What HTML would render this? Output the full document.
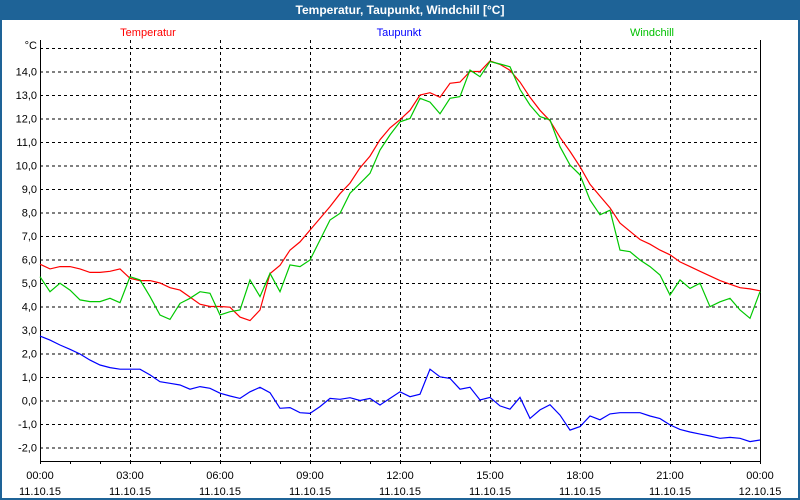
<!DOCTYPE html>
<html><head><meta charset="utf-8"><style>
body{margin:0;width:800px;height:500px;overflow:hidden;background:#fff;font-family:"Liberation Sans",sans-serif}
#frame{position:absolute;left:0;top:0;width:796px;height:478px;border:2px solid #1e6397;border-top:20px solid #1e6397;background:#fff}
#title{position:absolute;left:0;top:0;width:800px;height:20px;line-height:20px;text-align:center;color:#fff;font-weight:bold;font-size:12px}
</style></head><body>
<div id="frame"></div>
<div id="title">Temperatur, Taupunkt, Windchill [°C]</div>
<svg id="chart" width="800" height="500" style="position:absolute;left:0;top:0"></svg>
<script>
const tempValues=[5.8,5.6,5.7,5.7,5.6,5.45,5.45,5.5,5.6,5.2,5.1,5.1,5.0,4.8,4.7,4.4,4.1,4.0,4.0,3.97,3.55,3.4,3.85,5.4,5.75,6.4,6.75,7.25,7.75,8.25,8.8,9.25,9.9,10.4,11.1,11.6,11.95,12.35,13.0,13.1,12.9,13.5,13.55,14.0,14.0,14.45,14.3,14.05,13.55,12.9,12.35,11.9,11.2,10.6,9.95,9.2,8.7,8.2,7.55,7.2,6.85,6.65,6.4,6.2,5.9,5.7,5.5,5.3,5.1,4.95,4.8,4.75,4.67];
const dewValues=[2.74,2.57,2.36,2.18,1.98,1.72,1.51,1.4,1.33,1.33,1.33,1.09,0.8,0.73,0.66,0.48,0.59,0.52,0.31,0.19,0.09,0.37,0.56,0.33,-0.33,-0.3,-0.52,-0.55,-0.26,0.09,0.05,0.12,0.0,0.09,-0.19,0.09,0.37,0.16,0.27,1.33,1.01,0.94,0.48,0.56,0.02,0.13,-0.23,-0.37,0.13,-0.76,-0.4,-0.18,-0.62,-1.26,-1.11,-0.66,-0.82,-0.57,-0.52,-0.52,-0.52,-0.66,-0.77,-1.04,-1.23,-1.34,-1.43,-1.51,-1.61,-1.57,-1.61,-1.75,-1.68];
const chillValues=[5.27,4.63,4.99,4.7,4.28,4.21,4.21,4.35,4.16,5.27,5.13,4.42,3.64,3.45,4.13,4.35,4.63,4.56,3.64,3.78,3.85,5.13,4.42,5.41,4.63,5.77,5.7,5.98,6.83,7.68,7.96,8.82,9.24,9.67,10.66,11.3,11.86,12.0,12.86,12.7,12.2,12.86,12.93,14.06,13.78,14.42,14.32,14.2,13.24,12.57,12.08,11.94,10.8,10.02,9.6,8.53,7.9,8.1,6.4,6.33,5.98,5.7,5.34,4.49,5.13,4.77,4.99,3.99,4.2,4.35,3.85,3.5,4.63];
const yTicks=[-2,-1,0,1,2,3,4,5,6,7,8,9,10,11,12,13,14];
const xTickHours=[0,3,6,9,12,15,18,21,24];
const xTimeLabels=["00:00","03:00","06:00","09:00","12:00","15:00","18:00","21:00","00:00"];
const xDateLabels=["11.10.15","11.10.15","11.10.15","11.10.15","11.10.15","11.10.15","11.10.15","11.10.15","12.10.15"];
const stepHours=1/3;
const svg=document.getElementById('chart');
const NS='http://www.w3.org/2000/svg';
const L=40,R=760,T=40,B=461;
const xs=h=>L+h*(R-L)/24;
const ys=v=>48+(15-v)*23.5;
function mk(tag,attrs,txt){const e=document.createElementNS(NS,tag);for(const k in attrs)e.setAttribute(k,attrs[k]);if(txt!==undefined)e.textContent=txt;svg.appendChild(e);return e;}
// horizontal grid
[15,...yTicks].forEach(v=>{
 const g=mk('line',{x1:L,x2:R,y1:ys(v)+0.5,y2:ys(v)+0.5,stroke:'#000','stroke-dasharray':'3,3','shape-rendering':'crispEdges'});
 
 
});
yTicks.forEach(v=>{
 const t=mk('text',{x:37,y:ys(v)+4,'text-anchor':'end','font-size':'11',fill:'#000'},v.toFixed(1).replace('.',','));
 
 
});
const u=mk('text',{x:37,y:49,'text-anchor':'end','font-size':'11',fill:'#000'},'°C');


xTickHours.forEach((h,i)=>{
 if(h>0&&h<24){const g=mk('line',{x1:xs(h)+0.5,x2:xs(h)+0.5,y1:T,y2:B,stroke:'#000','stroke-dasharray':'3,3','shape-rendering':'crispEdges'});
 
 }
 const a=mk('text',{x:xs(h),y:479,'text-anchor':'middle','font-size':'11',fill:'#000'},xTimeLabels[i]);
 
 
 const b=mk('text',{x:xs(h),y:495,'text-anchor':'middle','font-size':'11',fill:'#000'},xDateLabels[i]);
 
 
});
for(let h=0;h<=24;h++){const t=mk('line',{x1:xs(h)+0.5,x2:xs(h)+0.5,y1:B,y2:B+3,stroke:'#000','shape-rendering':'crispEdges'});
 
 }
const ax=mk('path',{d:`M${L+0.5},${T} V${B+0.5} H${R+0.5} V${T}`,fill:'none',stroke:'#000','shape-rendering':'crispEdges'});


function series(vals,color,name){
 const d=vals.map((v,i)=>(i?'L':'M')+xs(i*stepHours).toFixed(1)+','+ys(v).toFixed(1)).join(' ');
 const p=mk('path',{d:d,fill:'none',stroke:color,'stroke-width':'1.2'});
 
 
}
series(dewValues,'#0000ff','taupunkt-line');
series(tempValues,'#ff0000','temperatur-line');
series(chillValues,'#00c800','windchill-line');
[['Temperatur','#ff0000',148,'legend-temperatur'],['Taupunkt','#0000ff',399,'legend-taupunkt'],['Windchill','#00c000',652,'legend-windchill']].forEach(l=>{
 const t=mk('text',{x:l[2],y:36,'text-anchor':'middle','font-size':'11',fill:l[1]},l[0]);
 
 
});
</script>
</body></html>
